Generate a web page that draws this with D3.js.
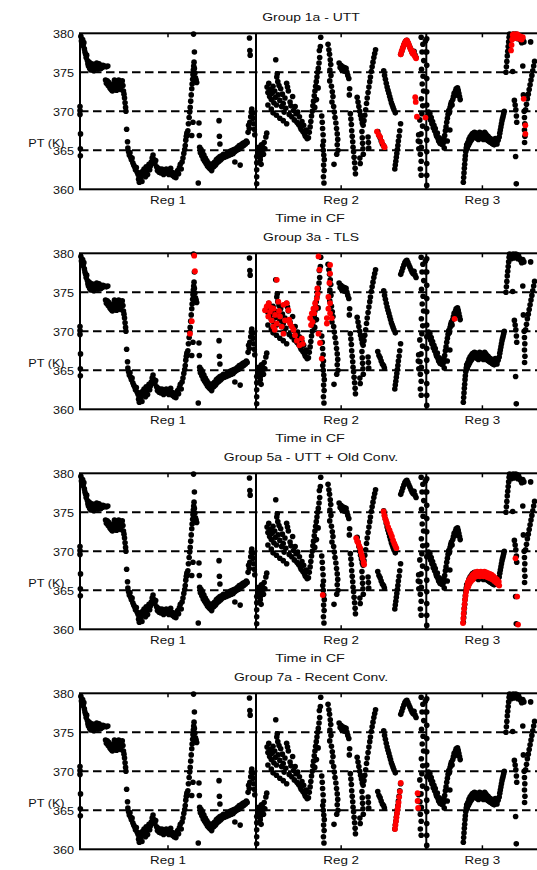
<!DOCTYPE html>
<html>
<head>
<meta charset="utf-8">
<script src="https://cdnjs.cloudflare.com/ajax/libs/d3/7.8.5/d3.min.js"></script>
<style>
  html, body { margin: 0; padding: 0; background: #fff; }
  svg text { font-family: "Liberation Sans", Arial, Helvetica, sans-serif; fill: #111; }
</style>
</head>
<body>
<svg id="chart" width="537" height="870"></svg>
<script>
'use strict';

// panel titles and region names
var groupTitles = ["Group 1a - UTT", "Group 3a - TLS", "Group 5a - UTT + Old Conv.", "Group 7a - Recent Conv."];
var regionNames = ["Reg 1", "Reg 2", "Reg 3"];
var yTicks = [360, 365, 370, 375, 380];
var refLevels = [365, 370, 375];

// PT (K) against time index (0-100) inside each region, same for every group
var reg1Pts = [
  [0,370.6],[0,370.1],[0,369.6],[0.3,367.1],[0.2,365.2],[0.2,364.3],
  [0.5,379.6],[0.8,379],[1.2,378.6],[1.5,379.2],[1.8,378.4],[2.2,378.8],[2.5,378],[2.8,377.6],[3.2,377.3],[3.5,376.9],
  [3.8,377.2],[4.2,376.5],[4.5,376.1],[4.8,375.8],[5.2,376.3],[5.5,375.5],[5.8,375.9],[6.2,375.3],[6.5,375.6],[6.8,376.1],
  [7.2,375.4],[7.5,375.8],[7.8,375.2],[8.2,375.6],[8.5,376],[8.8,375.5],[9.2,375.9],[9.5,376.2],[9.8,375.7],[10.2,375.4],
  [10.5,375.8],[10.8,376.1],[11.2,375.6],[11.5,375.9],[11.8,375.5],[12.2,375.8],[12.5,375.6],[13,375.9],[13.5,375.7],[14,375.8],
  [15,375.7],[15.8,375.8],
  [14.5,374],[15,373.6],[15.5,373.9],[16,373.3],[16.5,373.7],[17,373],[17.3,373.4],[17.7,372.8],[18,373.2],[18.4,372.6],
  [18.8,373],[19.2,373.5],[19.6,374],[20,373.7],[20.4,373.2],[20.8,372.7],[21.2,373.4],[21.6,373.9],[22,374],[22.4,373.6],
  [22.8,373.1],[23.2,372.8],[23.6,373.5],[24,373.9],[24.4,373.3],[24.7,372.6],[25,372.2],
  [25.3,371.7],[25.6,371.1],[25.9,370.5],[26.1,370],[26.5,367.7],[27,366.1],[27.2,365.3],
  [27.6,364.8],[28,364.4],[28.4,364.7],[28.8,364.1],[29.2,363.8],[29.6,364],[30,363.4],[30.5,363.1],[31,362.9],[31.5,362.5],
  [32,362.8],[32.5,362.2],[33,361.9],[33.3,361.3],[33.7,360.9],[34,361.5],[34.4,362.1],[34.8,361.6],[35.2,361],[35.6,362.3],
  [36,361.8],[36.4,362.6],[36.8,362.1],[37.2,361.6],[37.6,362.9],[38,362.4],[38.4,361.9],[38.8,362.7],[39.2,363.2],[39.6,362.5],
  [40,363],[40.5,363.5],[41,364],[41.5,364.4],[42,363.8],[42.5,363.3],[43,363.7],[43.5,362.9],[44,362.4],[44.5,362.7],
  [45,362.2],[45.5,362.5],[46,362.1],[46.5,362.6],[47,362.3],[47.5,361.9],[48,362.4],[48.5,362.2],[49,362.6],[49.5,362.1],
  [50,362.4],[50.5,361.9],[51,362.3],[51.5,362.7],[52,362.2],[52.5,361.8],[53,362.1],[53.5,361.6],[54,361.9],[54.5,361.5],
  [55,362],[55.5,362.4],[56,362],[56.5,362.8],[57,363.2],[57.5,362.6],[58,363.5],[58.5,364],[59,364.6],[59.5,365.1],
  [59.8,365.6],[60.1,366.3],[60.4,366.8],[60.7,367.2],[61,366.9],[61.3,367.5],[61.6,368.4],[62,369.2],[62.3,369.9],[62.6,370.5],
  [62.9,371.3],[63.2,372.1],[63.5,372.9],[63.7,373.5],[64,374.1],[64.2,374.7],[64.4,375.3],[64.6,375.8],[64.8,376.3],[65,375.5],
  [65.3,374.9],[65.6,374.3],[66,374],[66.3,373.7],[65,377.6],[64.5,379.9],[64.2,368.6],[63.5,366.9],
  [67.6,368.5],[67.8,366.9],[67.2,360.8],
  [68,365.4],[68.4,364.7],[68.8,365.1],[69.2,364.3],[69.6,364.7],[70,363.9],[70.4,364.4],[70.8,363.6],[71.2,364],[71.6,363.3],
  [72,363.7],[72.4,363],[72.8,363.4],[73.2,362.8],[73.6,363.2],[74,362.6],[74.4,363],[74.8,362.4],[75.2,362.8],[75.6,363.3],
  [76,362.9],[76.5,363.5],[77,363.1],[77.5,363.8],[78,363.4],[78.5,364],[79,363.6],[79.5,364.2],[80,363.8],[80.5,364.3],
  [81,364],[81.5,364.5],[82,364.1],[82.5,364.4],[83,364.2],[83.5,364.6],[84,364.3],[84.5,364.7],[85,364.4],[85.5,364.9],
  [86,364.5],[86.5,365],[87,364.6],[87.5,365.1],[88,364.8],[88.5,365.2],[89,365],[89.5,365.4],[90,365.1],[90.5,365.6],
  [91,365.3],[91.5,365.7],[92,365.5],[92.5,365.9],[93,365.6],[93.5,366],[94,365.8],[94.5,366.2],[95,366],
  [79,368.8],[79.2,366.8],[79.5,365.8],[91,363.1],[88,363.5],
  [95.5,367.3],[95.8,368.2],[96.2,367.8],[96.5,368.6],[97,369.3],[97.3,369.9],[97.6,370.3],[98,369.7],[98.3,369.1],[98.7,368.4],
  [99,367.7],[99.3,367],[96.3,379.4],[96.5,377.8],[96.7,377.2]
];

var reg2Pts = [
  [0.4,364.2],[0.4,363.4],[0.4,362.5],[0.4,361.6],[0.4,360.7],[1.2,364.8],[1.6,365.4],[2,364.6],[2.4,365.2],[2.8,364.3],
  [3.2,365.7],[3.6,364.9],[4,365.4],[4.4,364.5],[4.8,366],[5.2,365.2],[5.8,366.7],[6.3,367.2],[2.5,363.8],[3,363.2],
  [6.5,373.1],[7,372.4],[7.5,373.6],[8,371.9],[8.5,372.8],[9,371.5],[9.5,372.3],[10,373.2],[10.5,371.1],[11,372.6],
  [11.5,371.8],[12,370.8],[12.2,374.4],[12.5,374.8],[12.8,373.8],[13,372.1],[13.5,373.3],[14,371.4],[14.5,372.9],[15,370.6],
  [15.5,372.2],[16,371],[16.5,369.9],[17,371.7],[17.5,370.4],[18,373.6],[18.5,373.1],[19,372.6],[19.5,369.6],[20,371.2],
  [20.5,370.7],[21,369.3],[21.5,371.9],[22,370.1],[22.5,368.9],[23,370.6],[23.5,369.7],[24,368.6],[24.5,369.9],[25,368.3],
  [25.5,369.3],[26,368],[26.5,367.7],[27,368.7],[27.5,367.4],[28,368.2],[28.5,367.1],[29,366.8],[29.5,367.6],[30,366.5],
  [11.6,376.6],[7,370.8],[9,370.3],[10,369.8],[12,369.5],[14,369.1],[16,368.8],[18,368.4],
  [30.8,366.6],[31.3,367.3],[31.8,368],[32.2,368.7],[32.6,369.4],[33,370],[33.4,370.7],[33.8,371.3],[34.2,372],[34.6,372.6],
  [35,373.2],[35.4,373.8],[35.8,374.4],[36.2,375],[36.6,375.5],[37,376.2],[37.4,376.9],[37.2,377.8],[37.8,378.3],[38,379.5],
  [36.5,373],[35.5,371.5],[34.5,370.5],
  [38.6,369.4],[38.9,368.6],[39.1,367.8],[39.4,367],[39.6,366.2],[39.2,365.6],[39.5,365],[39.8,364.4],[40.1,363.8],[39.7,363.1],
  [40,362.4],[39.6,361.6],[39.9,360.8],
  [42.3,378.6],[42.8,377.9],[43.2,377.3],[43.6,376.6],[43.9,376],[43.4,375.3],[44,374.6],[43.3,373.9],[44.3,373.2],[44.8,372.5],
  [45.2,371.9],[44.6,371.2],[45.6,370.6],[46,369.9],[46.4,369.2],[46.9,368.5],[47.3,367.8],[47.7,367.1],[48,366.4],[47.7,365.7],
  [48.1,365],[47.4,364.5],[45.8,363.2],
  [48.8,376.2],[49.4,375.6],[49.9,375.9],[50.4,375.3],[50.9,375.7],[51.4,375.2],[51.9,375.6],[52.4,375.1],[52.9,375.5],[53.4,375],
  [53.9,374.6],[54.5,374.2],[55,372.9],[54.8,372.1],
  [55.4,369.7],[55.7,369],[56,368.3],[56.2,367.5],[56.5,366.8],[56.8,366.1],[57,365.4],[57.3,364.8],[57.6,364.1],[57.9,363.4],
  [58.2,362.7],[58.4,362],
  [59.4,371.8],[59.9,371.2],[60.4,370.6],[60.9,370],[61.4,369.5],[61.9,369],[62.4,368.5],[62.9,368.2],[63.4,368.8],[63.9,369.5],
  [64.4,370.2],[64.9,371],[65.3,371.7],[65.8,372.4],[66.3,373.1],[66.8,373.8],[67.2,374.4],[67.7,375.1],[68.2,375.7],[68.7,376.3],
  [69.2,376.9],[69.7,377.4],[70.2,377.9],
  [62.2,367.4],[62.4,366.6],[62.6,365.9],[62.8,365.2],[63,364.5],[61,364],[61.2,363.3],[65.8,366.7],[66,366],[66.2,365.3],
  [71.5,367.4],[72.2,366.9],[72.9,366.6],[73.5,366.2],[74.2,365.8],[74.9,365.6],[75.4,365.3],
  [75,375.2],[75.5,374.6],[76,374.1],[76.5,373.6],[77,373.1],[77.5,372.7],[78,372.3],[78.5,371.9],[79,371.5],[79.5,371.1],
  [80,370.8],[80.5,370.5],[81,370.2],[81.8,369.8],
  [81.5,362.6],[81.8,363.1],[82.1,363.6],[82.4,364.1],[82.7,364.6],[83,365.1],[83.3,365.6],[83.6,366.2],[84,366.8],[84.4,367.5],
  [84.9,368.4],
  [85,377.3],[85.6,377.7],[86.2,378.1],[86.8,378.5],[87.4,378.8],[88,379],[88.6,379.1],[89.2,378.8],[89.8,378.5],[90.4,378.2],
  [91,377.9],[91.6,377.6],[92.2,377.4],[92.8,377.7],[93.4,377.2],[94,376.9],
  [97,379.5],[98,378.6],[97.5,377.6],[98.5,376.5],[97.2,375.4],[98.1,374.5],[97.6,373.5],[98.4,372.6],[97.1,371.6],[97.9,370.7],
  [97.4,369.7],[96.2,368.9],[97.8,368.1],[96.9,367.1],[96.3,366.1],[97.1,365.4],[96.5,364.5],[97,363.6],[96.5,362.6],[97,361.8],
  [95.5,367],[95.3,366.2],[95.6,365.2],[99.5,379],[99.6,377.6]
];

var reg3Pts = [
  [0.4,379.3],[0.4,377.6],[0.4,375.9],[0.4,374.2],[0.4,372.5],[0.4,370.8],[0.4,369.3],[0.4,367.8],[0.4,366.3],[0.4,364.8],
  [0.4,363.3],[0.4,361.8],[0.4,360.5],
  [2,369.9],[2.6,369.4],[3.2,369.7],[3.8,368.9],[4.4,369.2],[5,368.4],[5.6,368.7],[6.2,367.9],[6.8,368.2],[7.4,367.5],
  [8,367.8],[8.6,367.1],[9.2,366.8],[9.8,367.2],[10.4,366.5],[11,366.2],[11.6,366.6],[12.2,365.9],[12.8,366.3],[13.4,365.8],
  [14,366.1],[14.6,365.7],[15.2,366],[15.8,366.4],[16.4,366.9],[17,367.5],[17.6,368],[18.2,368.6],[18.8,369.1],[19.4,369.6],
  [20,370.1],[20.6,369.8],[21.2,370.5],[21.8,370.9],[22.4,371.2],[23,370.8],[23.6,371.5],[24.2,371.9],[24.8,372.3],[25.4,372],
  [26,372.6],[26.6,372.9],[27.2,372.5],[27.8,373],[28.4,372.7],[29,372.3],[29.6,371.9],[30.2,371.5],[18.7,366.2],[21,367.6],
  [16,365.3],
  [33,360.9],[33.3,361.5],[33.6,362.1],[33.9,362.7],[34.2,363.2],[34.5,363.8],[34.8,364.3],[35.2,364.8],[35.6,365.3],[36,365.7],
  [36.5,365.2],[37,366],[37.5,365.6],[38,366.4],[38.5,365.9],[39,366.7],[39.5,366.2],[40,366.9],[40.5,366.4],[41,367.1],
  [41.5,366.6],[42,367.2],[42.5,366.7],[43,367.3],[43.5,366.8],[44,367.2],[44.5,366.6],[45,367.1],[45.5,366.5],[46,367],
  [46.5,366.4],[47,366.9],[47.5,367.3],[48,366.8],[48.5,367.2],[49,366.6],[49.5,367.1],[50,366.5],[50.5,367],[51,366.4],
  [51.5,366.9],[52,367.3],[52.5,366.7],[53,367.1],[53.5,366.5],[54,366.9],[54.5,366.3],[55,366.8],[55.5,366.2],[56,366.6],
  [56.5,366.1],[57,366.5],[57.5,366],[58,366.4],[58.5,365.9],[59,366.3],[59.5,365.8],[60,366.2],[60.5,365.7],[61,366.1],
  [61.5,366.5],[62,366],[62.5,366.4],[63,365.8],[64,366.3],[65,366.7],[65.5,367.2],[66,367.6],[66.5,368],[67,368.4],
  [67.5,368.8],[68,369.1],[68.5,369.4],[69,369.7],[69.5,370],
  [71,375],[71.4,375.7],[71.8,376.4],[72.2,377.1],[72.6,377.7],[73,378.3],[73.4,378.9],[73.8,379.5],[74.2,379.9],[75,379.7],
  [75.6,379.3],[76.2,379.8],[76.8,379.5],[77.4,379.9],[78,379.4],[78.6,379.8],[79.2,379.6],[79.8,379.9],[80.4,379.5],[81,379.8],
  [81.6,379.3],[82.2,379.7],[83,379.4],[84,379.1],[85,378.8],[86,379.2],[87,378.9],[93,378.9],
  [77,375.1],[78.5,371.4],[79.2,370.8],[79.8,370.2],[80.3,369.4],[80.6,368.6],[79.6,364.2],[80.2,360.7],[86,375.8],[86.5,372.1],
  [87.2,370],[87.5,369.2],[87.8,368.4],[87.5,367.6],[87.9,366.8],[87.6,366],
  [88.5,370.2],[89.3,370.9],[90.1,371.6],[90.9,372.2],[91.7,372.8],[92.5,373.4],[93.3,374],[94.1,374.6],[94.9,375.2],[95.7,375.8],
  [96.5,376.4]
];

// points flagged red for each group
var red1aReg2 = [
  [85,377.3],[85.5,377.7],[86,378],[86.5,378.3],[87,378.6],[87.5,378.8],[88,379],[88.5,379.1],[89,378.9],[89.5,378.7],
  [90,378.4],[90.5,378.1],[91,377.9],[91.5,377.6],[92,377.4],[92.5,377.6],[93,377.2],[93.5,377],[94,376.8],
  [71,367.4],[72,367],[72.9,366.7],[73.9,366.1],[74.9,365.6],[75.5,365.4],
  [93.5,371.8],[93.8,371.2],[94.5,369.3],[99.5,369.2]
];
var red1aReg3 = [
  [75.5,377.8],[76,378.5],[76.5,379.2],[77,379.8],[77.5,379.4],[78,379.9],[78.6,379.5],[79.2,379.8],[79.8,379.4],[80.4,379.7],
  [81,379.9],[81.6,379.4],[82.2,379.7],[83,379.3],[84,379.6],[85,379.2],[86,379.5],
  [86.8,371.6],[88.3,368.2],[88.3,367.1]
];
var red3aReg1 = [[64.9,379.7],[65.3,377.7],[63.5,371.3],[62.5,369.7]];
var red3aReg2 = [
  [12.2,376.6],[5.3,372.7],[6.3,373.2],[7.2,371.9],[8.2,372.5],[9.2,371.4],[10.2,372.9],[11.2,372.1],[12.2,371],[13.1,373.8],
  [14.1,371.9],[15.1,370.6],[16.1,369.7],[17.1,371.4],[18,373.6],[19,372.7],[20,371],[21,370.6],[22,370.2],[22.9,369.5],
  [26.9,369.1],[27.5,368.4],[16.1,373.4],[10.2,370.6],[7.5,373.6],[9,373],[11,370.2],[13.5,372.6],[19.5,371.5],[24,368.8],
  [25.5,368.2],
  [36.7,379.6],[37.3,377.9],[43.5,378.5],[43.5,377.4],[43.1,376.2],[35.7,374.2],[34.7,373.6],[33.7,372.9],[32.8,372.3],[31.8,371.7],
  [34.2,372.3],[35.2,373],[36.2,374.8],[42.5,374.4],[43.5,373.6],[42.5,372.9],[43.5,372.3],[44.5,371.7],[41.6,371.7],[41.6,371],
  [36.7,369.7],[37.6,368.5],[38.6,366.5],[32.3,370.8],[33.2,371.2],[36,375.5]
];
var red3aReg3 = [[25.2,371.6]];
var red5aReg2 = [
  [58.8,371.7],[59.4,371.3],[60,371.1],[60.6,370.7],[61.2,370.4],[61.6,369.9],[62.1,369.5],[62.6,369.1],[63.2,368.6],[63.5,368.3],
  [39.2,364.4],
  [74.9,375.1],[75.4,374.6],[75.9,374.2],[76.4,373.9],[76.9,373.6],[77.6,373.1],[78.4,372.7],[79.1,372.3],[79.8,371.9],[80.5,371.4],
  [81.2,371],[81.8,370.7],[82.4,370.4]
];
var red5aReg3 = [
  [32.7,360.8],[33,361.4],[33.3,362],[33.7,362.6],[34.1,363.2],[34.5,363.8],[35,364.3],[35.5,364.8],[36,365.2],[36.5,365.6],
  [37,366],[37.5,365.5],[38,366.3],[38.6,365.9],[39.2,366.6],[40,366.2],[40.8,366.9],[41.5,366.4],[42.2,367.1],[43,366.7],
  [43.8,367.3],[44.6,366.8],[45.4,367.4],[46.2,366.9],[47,367.3],[47.8,366.8],[48.6,367.4],[49.4,366.9],[50.2,367.3],[51,366.8],
  [51.8,367.4],[52.6,366.9],[53.4,367.3],[54.2,366.7],[55,367.2],[55.8,366.6],[56.6,367.1],[57.4,366.5],[58.2,367],[59,366.4],
  [59.8,366.8],[60.6,366.2],[61.4,366.6],[62.2,366],[63,366.4],[63.8,365.8],[64.6,366.1],[65,365.6],
  [79.5,369.1],[81,364.2],[81.8,360.6]
];
var red7aReg2 = [
  [81.6,362.6],[81.9,363.1],[82.2,363.6],[82.5,364.1],[82.8,364.6],[83.1,365.1],[83.4,365.5],[83.7,366],[84.1,366.7],[84.5,367.4],
  [85,368.5],[94.9,367.2],[94.9,366.2],[95.2,365.3]
];

// layout
var plotLeft = 80,
    regEdges = [80, 256, 426.3, 538.5],
    firstTop = 33.3, panelStep = 220, panelH = 156,
    midX = 310, pageH = 870;

var blackByReg = [reg1Pts, reg2Pts, reg3Pts];
var redByPanel = [
  [[], red1aReg2, red1aReg3],
  [red3aReg1, red3aReg2, red3aReg3],
  [[], red5aReg2, red5aReg3],
  [[], red7aReg2, []]
];

var svg = d3.select("#chart");
svg.append("rect").attr("width", 537).attr("height", pageH).attr("fill", "#fff");

var xScales = regionNames.map(function(name, i) {
  return d3.scaleLinear().domain([0, 100]).range([regEdges[i], regEdges[i + 1]]);
});

// stretched text, the original labels are wider than the plain font
function label(g, x, y, str, anchor, size, sx) {
  return g.append("text")
    .attr("transform", "translate(" + x + "," + y + ") scale(" + sx + ",1)")
    .attr("text-anchor", anchor)
    .style("font-size", size + "px")
    .text(str);
}

groupTitles.forEach(function(title, p) {
  var top = firstTop + p * panelStep,
      bottom = top + panelH,
      y = d3.scaleLinear().domain([360, 380]).range([bottom, top]),
      g = svg.append("g").attr("class", "panel");

  // y tick labels
  yTicks.forEach(function(v) {
    label(g, 74, y(v) + 4.2, String(v), "end", 11.5, 1.1);
  });
  label(g, 28.3, top + 113.7, "PT (K)", "start", 11, 1.15);

  label(g, midX + 1, top - 12.6, title, "middle", 11, 1.27);
  // the last x title falls below the page
  if (bottom + 33 < pageH) {
    label(g, midX, bottom + 32.8, "Time in CF", "middle", 11.5, 1.25);
  }

  // frame and region dividers
  g.append("rect")
    .attr("x", plotLeft).attr("y", top)
    .attr("width", regEdges[3] - plotLeft).attr("height", panelH)
    .attr("fill", "none").attr("stroke", "#000").attr("stroke-width", 2);

  [regEdges[1], regEdges[2]].forEach(function(xv) {
    g.append("line")
      .attr("x1", xv).attr("x2", xv).attr("y1", top).attr("y2", bottom)
      .attr("stroke", "#000").attr("stroke-width", 2);
  });

  regionNames.forEach(function(name, r) {
    var cx = xScales[r](50);
    g.append("line").attr("x1", cx).attr("x2", cx).attr("y1", top).attr("y2", top + 4)
      .attr("stroke", "#000").attr("stroke-width", 1.5);
    g.append("line").attr("x1", cx).attr("x2", cx).attr("y1", bottom).attr("y2", bottom - 4)
      .attr("stroke", "#000").attr("stroke-width", 1.5);
    label(g, cx, bottom + 14.6, name, "middle", 11, 1.22);
  });

  // dashed reference levels
  g.selectAll("line.ref")
    .data(refLevels)
    .enter().append("line")
    .attr("class", "ref")
    .attr("x1", plotLeft).attr("x2", regEdges[3])
    .attr("y1", function(d) { return y(d); })
    .attr("y2", function(d) { return y(d); })
    .attr("stroke", "#000").attr("stroke-width", 2)
    .attr("stroke-dasharray", "8.5,4.5");

  // black series, then the group's red points on top
  blackByReg.forEach(function(pts, r) {
    g.append("g").selectAll("circle")
      .data(pts)
      .enter().append("circle")
      .attr("cx", function(d) { return xScales[r](d[0]); })
      .attr("cy", function(d) { return y(d[1]); })
      .attr("r", 2.8)
      .attr("fill", "#000");
  });

  redByPanel[p].forEach(function(pts, r) {
    g.append("g").selectAll("circle")
      .data(pts)
      .enter().append("circle")
      .attr("cx", function(d) { return xScales[r](d[0]); })
      .attr("cy", function(d) { return y(d[1]); })
      .attr("r", 2.9)
      .attr("fill", "#ff0000");
  });
});
</script>
</body>
</html>
